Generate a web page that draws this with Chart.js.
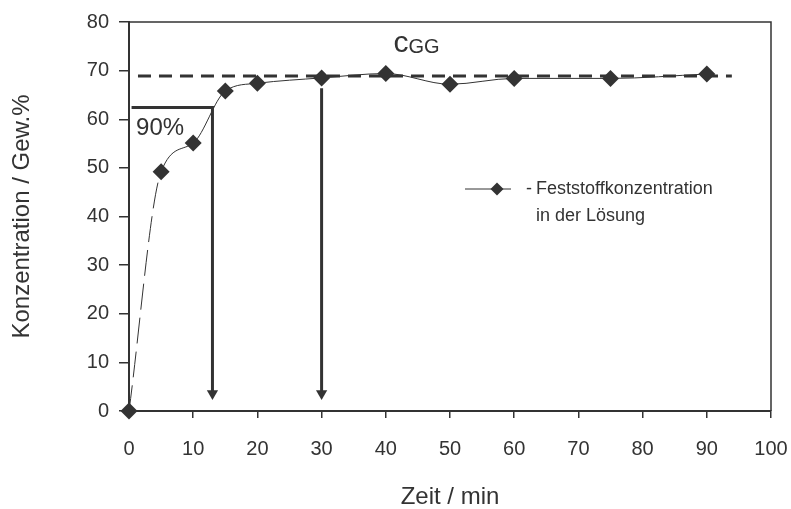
<!DOCTYPE html>
<html>
<head>
<meta charset="utf-8">
<script src="https://cdn.jsdelivr.net/npm/chart.js@4.4.1/dist/chart.umd.min.js"></script>
<style>
  html, body { margin: 0; padding: 0; background: #fff; }
  #wrap { width: 791px; height: 509px; }
</style>
</head>
<body>
<div id="wrap"><canvas id="c"></canvas></div>
<script>
// Werte
const zeit = [0, 5, 10, 15, 20, 30, 40, 50, 60, 75, 90];
const konzentration = [0, 49.2, 55.1, 65.8, 67.4, 68.5, 69.4, 67.2, 68.4, 68.4, 69.3];
const cGG = 68.9;           // Gleichgewichtskonzentration (gestrichelt)
const cGGSpan = [1.4, 93.9];
const t90 = 13.0;           // 90 % erreicht
const c90 = 62.4;
const tEnd = 30;            // Gleichgewicht erreicht
const tEndTop = 66.4;
const arrowTip = 3.6;
const xTicks = [0, 10, 20, 30, 40, 50, 60, 70, 80, 90, 100];
const yTicks = [0, 10, 20, 30, 40, 50, 60, 70, 80];

const FONT = "'Liberation Sans', Arial, sans-serif";
const INK = '#333333';

const points = zeit.map((t, i) => ({x: t, y: konzentration[i]}));

// Beschriftungen, Legende und Rahmen
const extras = {
  id: 'extras',
  afterDraw(chart) {
    const {ctx, chartArea: a, scales: {x, y}} = chart;
    ctx.save();
    // Rahmen oben/rechts
    ctx.strokeStyle = INK;
    ctx.lineWidth = 1.5;
    ctx.beginPath();
    ctx.moveTo(a.left, a.top);
    ctx.lineTo(a.right, a.top);
    ctx.lineTo(a.right, a.bottom);
    ctx.stroke();

    ctx.fillStyle = INK;
    ctx.textBaseline = 'middle';
    ctx.textAlign = 'left';
    ctx.font = '24px ' + FONT;
    ctx.fillText('90%', x.getPixelForValue(1.1), y.getPixelForValue(58.1));

    // c_GG
    ctx.textBaseline = 'alphabetic';
    ctx.font = '30px ' + FONT;
    const cx = x.getPixelForValue(41.2);
    const cy = y.getPixelForValue(73.8);
    ctx.fillText('c', cx, cy);
    const cw = ctx.measureText('c').width;
    ctx.font = '20px ' + FONT;
    ctx.fillText('GG', cx + cw, cy + 1);

    // Legende
    ctx.strokeStyle = INK;
    ctx.lineWidth = 1;
    ctx.beginPath();
    ctx.moveTo(465, 189);
    ctx.lineTo(511, 189);
    ctx.stroke();
    ctx.beginPath();
    ctx.moveTo(497, 182.5);
    ctx.lineTo(503.5, 189);
    ctx.lineTo(497, 195.5);
    ctx.lineTo(490.5, 189);
    ctx.closePath();
    ctx.fill();
    ctx.font = '18px ' + FONT;
    ctx.textBaseline = 'middle';
    ctx.fillText('-', 526, 189);
    ctx.fillText('Feststoffkonzentration', 536, 189);
    ctx.fillText('in der Lösung', 536, 216);
    ctx.restore();
  }
};

new Chart(document.getElementById('c'), {
  type: 'scatter',
  data: {
    datasets: [
      {
        label: 'Feststoffkonzentration in der Lösung',
        data: points,
        showLine: true,
        clip: false,
        cubicInterpolationMode: 'monotone',
        borderColor: INK,
        borderWidth: 1,
        pointStyle: 'rectRot',
        pointRadius: 8.5,
        pointBackgroundColor: INK,
        pointBorderColor: INK,
        pointBorderWidth: 0,
        segment: {borderDash: c => c.p0DataIndex === 0 ? [26, 8] : undefined},
        order: 0
      },
      {
        label: 'cGG',
        data: [{x: cGGSpan[0], y: cGG}, {x: cGGSpan[1], y: cGG}],
        showLine: true,
        borderColor: INK,
        borderWidth: 3,
        borderDash: [13, 8],
        pointRadius: 0,
        order: 1
      },
      {
        label: '90%',
        data: [{x: 0.4, y: c90}, {x: t90, y: c90}, {x: t90, y: arrowTip}],
        showLine: true,
        borderColor: INK,
        borderWidth: 3,
        pointStyle: 'triangle',
        pointRotation: 180,
        pointRadius: [0, 0, 6.5],
        pointBackgroundColor: INK,
        pointBorderWidth: 0,
        order: 1
      },
      {
        label: 'Gleichgewicht',
        data: [{x: tEnd, y: tEndTop}, {x: tEnd, y: arrowTip}],
        showLine: true,
        borderColor: INK,
        borderWidth: 3,
        pointStyle: 'triangle',
        pointRotation: 180,
        pointRadius: [0, 6.5],
        pointBackgroundColor: INK,
        pointBorderWidth: 0,
        order: 1
      }
    ]
  },
  options: {
    responsive: true,
    maintainAspectRatio: false,
    animation: false,
    events: [],
    layout: {autoPadding: false, padding: {left: 0, right: 20, top: 22, bottom: 0}},
    plugins: {legend: {display: false}, tooltip: {enabled: false}},
    scales: {
      x: {
        type: 'linear',
        min: 0, max: 100,
        afterBuildTicks: s => { s.ticks = xTicks.map(v => ({value: v})); },
        afterFit: s => { s.height = 98; s.paddingLeft = 0; s.paddingRight = 0; },
        grid: {drawOnChartArea: false, tickLength: 7, color: INK, lineWidth: 1.5},
        border: {color: INK, width: 2},
        ticks: {color: INK, font: {family: FONT, size: 20}, padding: 19, maxRotation: 0},
        title: {display: true, text: 'Zeit / min', color: INK,
                font: {family: FONT, size: 24, lineHeight: 1}, padding: {top: 0, bottom: 0}}
      },
      y: {
        type: 'linear',
        min: 0, max: 80,
        afterBuildTicks: s => { s.ticks = yTicks.map(v => ({value: v})); },
        afterFit: s => { s.width = 129; s.paddingTop = 0; s.paddingBottom = 0; },
        grid: {drawOnChartArea: false, tickLength: 10, color: INK, lineWidth: 1.5},
        border: {color: INK, width: 2},
        ticks: {color: INK, font: {family: FONT, size: 20}, padding: 10},
        title: {display: true, text: 'Konzentration / Gew.%', color: INK,
                font: {family: FONT, size: 24, lineHeight: 1}, padding: {top: 10, bottom: 0}}
      }
    }
  },
  plugins: [extras]
});
</script>
</body>
</html>
